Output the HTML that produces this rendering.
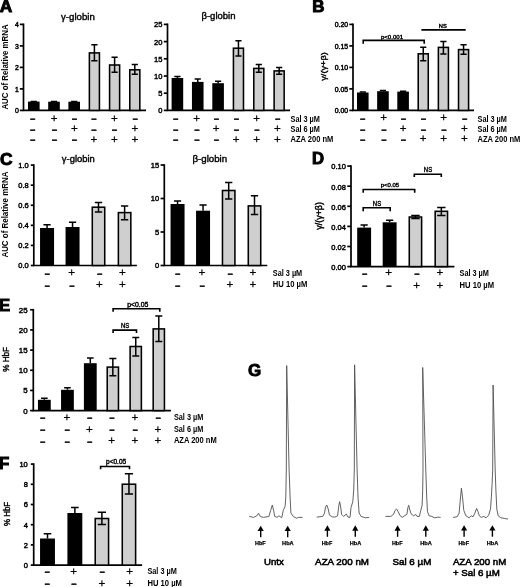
<!DOCTYPE html>
<html lang="en"><head><meta charset="utf-8"><title>Figure</title>
<style>html,body{margin:0;padding:0;background:#fff}svg{display:block}text{font-family:'Liberation Sans', Arial, Helvetica, sans-serif;fill:#000}</style>
</head><body>
<svg width="520" height="587" viewBox="0 0 520 587">
<rect width="520" height="587" fill="#fff"/>
<text x="-0.2" y="11.9" font-size="17.3" text-anchor="start" font-weight="bold" stroke="#000" stroke-width="1.0" stroke-linejoin="miter">A</text>
<text x="312.3" y="12.0" font-size="16.9" text-anchor="start" font-weight="bold" stroke="#000" stroke-width="1.0" stroke-linejoin="miter">B</text>
<text x="0.1" y="165.1" font-size="17.3" text-anchor="start" font-weight="bold" stroke="#000" stroke-width="1.0" stroke-linejoin="miter">C</text>
<text x="312.1" y="164.0" font-size="16.7" text-anchor="start" font-weight="bold" stroke="#000" stroke-width="1.0" stroke-linejoin="miter">D</text>
<text x="-1.1" y="311.1" font-size="16.7" text-anchor="start" font-weight="bold" stroke="#000" stroke-width="1.0" stroke-linejoin="miter">E</text>
<text x="-1.3" y="469.3" font-size="17.1" text-anchor="start" font-weight="bold" stroke="#000" stroke-width="1.2">F</text>
<text x="247.9" y="376.0" font-size="17.0" text-anchor="start" font-weight="bold" stroke="#000" stroke-width="0.9">G</text>
<path d="M23.5,23.45 V110.4 H146.0" fill="none" stroke="#000" stroke-width="1.7" stroke-linecap="butt" stroke-linejoin="miter"/>
<line x1="19.8" y1="110.4" x2="23.5" y2="110.4" stroke="#000" stroke-width="1.7"/>
<text x="18.9" y="113.08" font-size="6.9" text-anchor="end" font-weight="normal" stroke="#000" stroke-width="0.45">0</text>
<line x1="19.8" y1="88.9" x2="23.5" y2="88.9" stroke="#000" stroke-width="1.7"/>
<text x="18.9" y="91.58" font-size="6.9" text-anchor="end" font-weight="normal" stroke="#000" stroke-width="0.45">1</text>
<line x1="19.8" y1="67.4" x2="23.5" y2="67.4" stroke="#000" stroke-width="1.7"/>
<text x="18.9" y="70.08" font-size="6.9" text-anchor="end" font-weight="normal" stroke="#000" stroke-width="0.45">2</text>
<line x1="19.8" y1="45.900000000000006" x2="23.5" y2="45.900000000000006" stroke="#000" stroke-width="1.7"/>
<text x="18.9" y="48.58" font-size="6.9" text-anchor="end" font-weight="normal" stroke="#000" stroke-width="0.45">3</text>
<line x1="19.8" y1="24.400000000000006" x2="23.5" y2="24.400000000000006" stroke="#000" stroke-width="1.7"/>
<text x="18.9" y="27.08" font-size="6.9" text-anchor="end" font-weight="normal" stroke="#000" stroke-width="0.45">4</text>
<rect x="28.00" y="101.60" width="11.60" height="8.80" fill="#000"/>
<path d="M33.80,101.60 V101.40 M30.70,101.40 H36.90" stroke="#000" stroke-width="1.5" fill="none"/>
<rect x="48.20" y="101.70" width="11.60" height="8.70" fill="#000"/>
<path d="M54.00,101.70 V101.40 M50.90,101.40 H57.10" stroke="#000" stroke-width="1.5" fill="none"/>
<rect x="68.40" y="101.70" width="11.60" height="8.70" fill="#000"/>
<path d="M74.20,101.70 V101.50 M71.10,101.50 H77.30" stroke="#000" stroke-width="1.5" fill="none"/>
<rect x="89.38" y="52.90" width="10.05" height="57.50" fill="#cfcfcf" stroke="#000" stroke-width="1.55"/>
<path d="M94.40,44.80 V60.80 M91.30,44.80 H97.50 M91.30,60.80 H97.50" stroke="#000" stroke-width="1.5" fill="none"/>
<rect x="109.58" y="65.00" width="10.05" height="45.40" fill="#cfcfcf" stroke="#000" stroke-width="1.55"/>
<path d="M114.60,57.30 V72.30 M111.50,57.30 H117.70 M111.50,72.30 H117.70" stroke="#000" stroke-width="1.5" fill="none"/>
<rect x="129.78" y="69.80" width="10.05" height="40.60" fill="#cfcfcf" stroke="#000" stroke-width="1.55"/>
<path d="M134.80,64.50 V74.20 M131.70,64.50 H137.90 M131.70,74.20 H137.90" stroke="#000" stroke-width="1.5" fill="none"/>
<text x="32.60" y="122.35" font-size="8.8" font-weight="bold" text-anchor="middle" stroke="#000" stroke-width="0.5">−</text>
<text x="54.20" y="121.70" font-size="11.6" text-anchor="middle" stroke="#000" stroke-width="0.25">+</text>
<text x="74.30" y="122.35" font-size="8.8" font-weight="bold" text-anchor="middle" stroke="#000" stroke-width="0.5">−</text>
<text x="93.80" y="122.35" font-size="8.8" font-weight="bold" text-anchor="middle" stroke="#000" stroke-width="0.5">−</text>
<text x="114.30" y="121.70" font-size="11.6" text-anchor="middle" stroke="#000" stroke-width="0.25">+</text>
<text x="135.00" y="122.35" font-size="8.8" font-weight="bold" text-anchor="middle" stroke="#000" stroke-width="0.5">−</text>
<text x="32.60" y="133.05" font-size="8.8" font-weight="bold" text-anchor="middle" stroke="#000" stroke-width="0.5">−</text>
<text x="54.20" y="133.05" font-size="8.8" font-weight="bold" text-anchor="middle" stroke="#000" stroke-width="0.5">−</text>
<text x="74.30" y="132.40" font-size="11.6" text-anchor="middle" stroke="#000" stroke-width="0.25">+</text>
<text x="93.80" y="133.05" font-size="8.8" font-weight="bold" text-anchor="middle" stroke="#000" stroke-width="0.5">−</text>
<text x="114.30" y="133.05" font-size="8.8" font-weight="bold" text-anchor="middle" stroke="#000" stroke-width="0.5">−</text>
<text x="135.00" y="132.40" font-size="11.6" text-anchor="middle" stroke="#000" stroke-width="0.25">+</text>
<text x="32.60" y="143.15" font-size="8.8" font-weight="bold" text-anchor="middle" stroke="#000" stroke-width="0.5">−</text>
<text x="54.20" y="143.15" font-size="8.8" font-weight="bold" text-anchor="middle" stroke="#000" stroke-width="0.5">−</text>
<text x="74.30" y="143.15" font-size="8.8" font-weight="bold" text-anchor="middle" stroke="#000" stroke-width="0.5">−</text>
<text x="93.80" y="142.50" font-size="11.6" text-anchor="middle" stroke="#000" stroke-width="0.25">+</text>
<text x="114.30" y="142.50" font-size="11.6" text-anchor="middle" stroke="#000" stroke-width="0.25">+</text>
<text x="135.00" y="142.50" font-size="11.6" text-anchor="middle" stroke="#000" stroke-width="0.25">+</text>
<text x="77.9" y="19.6" font-size="9.6" text-anchor="middle" font-weight="normal" textLength="33.7" lengthAdjust="spacingAndGlyphs" stroke="#000" stroke-width="0.4">γ-globin</text>
<text transform="translate(8.4,67.0) rotate(-90)" font-size="8.4" text-anchor="middle" font-weight="bold" textLength="85.2" lengthAdjust="spacingAndGlyphs">AUC of Relative mRNA</text>
<path d="M167.5,23.45 V110.4 H290.0" fill="none" stroke="#000" stroke-width="1.7" stroke-linecap="butt" stroke-linejoin="miter"/>
<line x1="163.8" y1="110.4" x2="167.5" y2="110.4" stroke="#000" stroke-width="1.7"/>
<text x="162.4" y="113.3" font-size="7.5" text-anchor="end" font-weight="normal" stroke="#000" stroke-width="0.45">0</text>
<line x1="163.8" y1="93.2" x2="167.5" y2="93.2" stroke="#000" stroke-width="1.7"/>
<text x="162.4" y="96.1" font-size="7.5" text-anchor="end" font-weight="normal" stroke="#000" stroke-width="0.45">5</text>
<line x1="163.8" y1="76.0" x2="167.5" y2="76.0" stroke="#000" stroke-width="1.7"/>
<text x="162.4" y="78.9" font-size="7.5" text-anchor="end" font-weight="normal" stroke="#000" stroke-width="0.45">10</text>
<line x1="163.8" y1="58.80000000000001" x2="167.5" y2="58.80000000000001" stroke="#000" stroke-width="1.7"/>
<text x="162.4" y="61.7" font-size="7.5" text-anchor="end" font-weight="normal" stroke="#000" stroke-width="0.45">15</text>
<line x1="163.8" y1="41.60000000000001" x2="167.5" y2="41.60000000000001" stroke="#000" stroke-width="1.7"/>
<text x="162.4" y="44.5" font-size="7.5" text-anchor="end" font-weight="normal" stroke="#000" stroke-width="0.45">20</text>
<line x1="163.8" y1="24.400000000000006" x2="167.5" y2="24.400000000000006" stroke="#000" stroke-width="1.7"/>
<text x="162.4" y="27.3" font-size="7.5" text-anchor="end" font-weight="normal" stroke="#000" stroke-width="0.45">25</text>
<rect x="171.60" y="78.00" width="11.60" height="32.40" fill="#000"/>
<path d="M177.40,78.00 V76.50 M174.30,76.50 H180.50" stroke="#000" stroke-width="1.5" fill="none"/>
<rect x="191.95" y="81.90" width="11.60" height="28.50" fill="#000"/>
<path d="M197.75,81.90 V79.00 M194.65,79.00 H200.85" stroke="#000" stroke-width="1.5" fill="none"/>
<rect x="212.30" y="83.20" width="11.60" height="27.20" fill="#000"/>
<path d="M218.10,83.20 V81.30 M215.00,81.30 H221.20" stroke="#000" stroke-width="1.5" fill="none"/>
<rect x="233.43" y="48.20" width="10.05" height="62.20" fill="#cfcfcf" stroke="#000" stroke-width="1.55"/>
<path d="M238.45,40.80 V55.90 M235.35,40.80 H241.55 M235.35,55.90 H241.55" stroke="#000" stroke-width="1.5" fill="none"/>
<rect x="253.78" y="68.40" width="10.05" height="42.00" fill="#cfcfcf" stroke="#000" stroke-width="1.55"/>
<path d="M258.80,64.50 V72.30 M255.70,64.50 H261.90 M255.70,72.30 H261.90" stroke="#000" stroke-width="1.5" fill="none"/>
<rect x="274.12" y="70.90" width="10.05" height="39.50" fill="#cfcfcf" stroke="#000" stroke-width="1.55"/>
<path d="M279.15,67.40 V74.20 M276.05,67.40 H282.25 M276.05,74.20 H282.25" stroke="#000" stroke-width="1.5" fill="none"/>
<text x="175.50" y="122.35" font-size="8.8" font-weight="bold" text-anchor="middle" stroke="#000" stroke-width="0.5">−</text>
<text x="196.75" y="121.70" font-size="11.6" text-anchor="middle" stroke="#000" stroke-width="0.25">+</text>
<text x="216.25" y="122.35" font-size="8.8" font-weight="bold" text-anchor="middle" stroke="#000" stroke-width="0.5">−</text>
<text x="236.25" y="122.35" font-size="8.8" font-weight="bold" text-anchor="middle" stroke="#000" stroke-width="0.5">−</text>
<text x="256.75" y="121.70" font-size="11.6" text-anchor="middle" stroke="#000" stroke-width="0.25">+</text>
<text x="277.50" y="122.35" font-size="8.8" font-weight="bold" text-anchor="middle" stroke="#000" stroke-width="0.5">−</text>
<text x="175.50" y="133.05" font-size="8.8" font-weight="bold" text-anchor="middle" stroke="#000" stroke-width="0.5">−</text>
<text x="196.75" y="133.05" font-size="8.8" font-weight="bold" text-anchor="middle" stroke="#000" stroke-width="0.5">−</text>
<text x="216.25" y="132.40" font-size="11.6" text-anchor="middle" stroke="#000" stroke-width="0.25">+</text>
<text x="236.25" y="133.05" font-size="8.8" font-weight="bold" text-anchor="middle" stroke="#000" stroke-width="0.5">−</text>
<text x="256.75" y="133.05" font-size="8.8" font-weight="bold" text-anchor="middle" stroke="#000" stroke-width="0.5">−</text>
<text x="277.50" y="132.40" font-size="11.6" text-anchor="middle" stroke="#000" stroke-width="0.25">+</text>
<text x="175.50" y="143.15" font-size="8.8" font-weight="bold" text-anchor="middle" stroke="#000" stroke-width="0.5">−</text>
<text x="196.75" y="143.15" font-size="8.8" font-weight="bold" text-anchor="middle" stroke="#000" stroke-width="0.5">−</text>
<text x="216.25" y="143.15" font-size="8.8" font-weight="bold" text-anchor="middle" stroke="#000" stroke-width="0.5">−</text>
<text x="236.25" y="142.50" font-size="11.6" text-anchor="middle" stroke="#000" stroke-width="0.25">+</text>
<text x="256.75" y="142.50" font-size="11.6" text-anchor="middle" stroke="#000" stroke-width="0.25">+</text>
<text x="277.50" y="142.50" font-size="11.6" text-anchor="middle" stroke="#000" stroke-width="0.25">+</text>
<text x="290.5" y="121.8" font-size="8.5" text-anchor="start" font-weight="bold" textLength="29.4" lengthAdjust="spacingAndGlyphs">Sal 3 µM</text>
<text x="290.5" y="131.7" font-size="8.5" text-anchor="start" font-weight="bold" textLength="29.4" lengthAdjust="spacingAndGlyphs">Sal 6 µM</text>
<text x="290.5" y="141.6" font-size="8.5" text-anchor="start" font-weight="bold" textLength="42.8" lengthAdjust="spacingAndGlyphs">AZA 200 nM</text>
<text x="218.5" y="19.3" font-size="9.6" text-anchor="middle" font-weight="normal" textLength="34.1" lengthAdjust="spacingAndGlyphs" stroke="#000" stroke-width="0.4">β-globin</text>
<path d="M353,23.45 V110.4 H474.0" fill="none" stroke="#000" stroke-width="1.7" stroke-linecap="butt" stroke-linejoin="miter"/>
<line x1="349.3" y1="110.4" x2="353" y2="110.4" stroke="#000" stroke-width="1.7"/>
<text x="348.1" y="113.08" font-size="6.9" text-anchor="end" font-weight="normal" stroke="#000" stroke-width="0.45">0.00</text>
<line x1="349.3" y1="88.9" x2="353" y2="88.9" stroke="#000" stroke-width="1.7"/>
<text x="348.1" y="91.58" font-size="6.9" text-anchor="end" font-weight="normal" stroke="#000" stroke-width="0.45">0.05</text>
<line x1="349.3" y1="67.4" x2="353" y2="67.4" stroke="#000" stroke-width="1.7"/>
<text x="348.1" y="70.08" font-size="6.9" text-anchor="end" font-weight="normal" stroke="#000" stroke-width="0.45">0.10</text>
<line x1="349.3" y1="45.900000000000006" x2="353" y2="45.900000000000006" stroke="#000" stroke-width="1.7"/>
<text x="348.1" y="48.58" font-size="6.9" text-anchor="end" font-weight="normal" stroke="#000" stroke-width="0.45">0.15</text>
<line x1="349.3" y1="24.400000000000006" x2="353" y2="24.400000000000006" stroke="#000" stroke-width="1.7"/>
<text x="348.1" y="27.08" font-size="6.9" text-anchor="end" font-weight="normal" stroke="#000" stroke-width="0.45">0.20</text>
<rect x="357.00" y="92.50" width="11.60" height="17.90" fill="#000"/>
<path d="M362.80,92.50 V92.00 M359.70,92.00 H365.90" stroke="#000" stroke-width="1.5" fill="none"/>
<rect x="377.15" y="91.20" width="11.60" height="19.20" fill="#000"/>
<path d="M382.95,91.20 V90.60 M379.85,90.60 H386.05" stroke="#000" stroke-width="1.5" fill="none"/>
<rect x="397.30" y="91.60" width="11.60" height="18.80" fill="#000"/>
<path d="M403.10,91.60 V91.20 M400.00,91.20 H406.20" stroke="#000" stroke-width="1.5" fill="none"/>
<rect x="418.22" y="53.80" width="10.05" height="56.60" fill="#cfcfcf" stroke="#000" stroke-width="1.55"/>
<path d="M423.25,47.20 V60.70 M420.15,47.20 H426.35 M420.15,60.70 H426.35" stroke="#000" stroke-width="1.5" fill="none"/>
<rect x="438.37" y="47.40" width="10.05" height="63.00" fill="#cfcfcf" stroke="#000" stroke-width="1.55"/>
<path d="M443.40,41.40 V54.00 M440.30,41.40 H446.50 M440.30,54.00 H446.50" stroke="#000" stroke-width="1.5" fill="none"/>
<rect x="458.52" y="49.60" width="10.05" height="60.80" fill="#cfcfcf" stroke="#000" stroke-width="1.55"/>
<path d="M463.55,44.70 V54.30 M460.45,44.70 H466.65 M460.45,54.30 H466.65" stroke="#000" stroke-width="1.5" fill="none"/>
<text x="362.50" y="122.05" font-size="8.8" font-weight="bold" text-anchor="middle" stroke="#000" stroke-width="0.5">−</text>
<text x="383.75" y="121.40" font-size="11.6" text-anchor="middle" stroke="#000" stroke-width="0.25">+</text>
<text x="403.25" y="122.05" font-size="8.8" font-weight="bold" text-anchor="middle" stroke="#000" stroke-width="0.5">−</text>
<text x="423.25" y="122.05" font-size="8.8" font-weight="bold" text-anchor="middle" stroke="#000" stroke-width="0.5">−</text>
<text x="443.75" y="121.40" font-size="11.6" text-anchor="middle" stroke="#000" stroke-width="0.25">+</text>
<text x="464.50" y="122.05" font-size="8.8" font-weight="bold" text-anchor="middle" stroke="#000" stroke-width="0.5">−</text>
<text x="362.50" y="132.55" font-size="8.8" font-weight="bold" text-anchor="middle" stroke="#000" stroke-width="0.5">−</text>
<text x="383.75" y="132.55" font-size="8.8" font-weight="bold" text-anchor="middle" stroke="#000" stroke-width="0.5">−</text>
<text x="403.25" y="131.90" font-size="11.6" text-anchor="middle" stroke="#000" stroke-width="0.25">+</text>
<text x="423.25" y="132.55" font-size="8.8" font-weight="bold" text-anchor="middle" stroke="#000" stroke-width="0.5">−</text>
<text x="443.75" y="132.55" font-size="8.8" font-weight="bold" text-anchor="middle" stroke="#000" stroke-width="0.5">−</text>
<text x="464.50" y="131.90" font-size="11.6" text-anchor="middle" stroke="#000" stroke-width="0.25">+</text>
<text x="362.50" y="142.65" font-size="8.8" font-weight="bold" text-anchor="middle" stroke="#000" stroke-width="0.5">−</text>
<text x="383.75" y="142.65" font-size="8.8" font-weight="bold" text-anchor="middle" stroke="#000" stroke-width="0.5">−</text>
<text x="403.25" y="142.65" font-size="8.8" font-weight="bold" text-anchor="middle" stroke="#000" stroke-width="0.5">−</text>
<text x="423.25" y="142.00" font-size="11.6" text-anchor="middle" stroke="#000" stroke-width="0.25">+</text>
<text x="443.75" y="142.00" font-size="11.6" text-anchor="middle" stroke="#000" stroke-width="0.25">+</text>
<text x="464.50" y="142.00" font-size="11.6" text-anchor="middle" stroke="#000" stroke-width="0.25">+</text>
<path d="M363.2,43.8 V40.4 H424.2 V43.8" fill="none" stroke="#000" stroke-width="1.6"/>
<text x="392" y="38.6" font-size="6.2" text-anchor="middle" font-weight="normal" textLength="22.2" lengthAdjust="spacingAndGlyphs" stroke="#000" stroke-width="0.4">p&lt;0.001</text>
<path d="M421.4,29.9 H465.7" fill="none" stroke="#000" stroke-width="1.6"/>
<text x="442.8" y="28.3" font-size="6.0" text-anchor="middle" font-weight="normal" textLength="7.9" lengthAdjust="spacingAndGlyphs" stroke="#000" stroke-width="0.4">NS</text>
<text x="477.5" y="121.6" font-size="8.5" text-anchor="start" font-weight="bold" textLength="29.4" lengthAdjust="spacingAndGlyphs">Sal 3 µM</text>
<text x="477.5" y="131.6" font-size="8.5" text-anchor="start" font-weight="bold" textLength="29.4" lengthAdjust="spacingAndGlyphs">Sal 6 µM</text>
<text x="477.5" y="141.5" font-size="8.5" text-anchor="start" font-weight="bold" textLength="42.8" lengthAdjust="spacingAndGlyphs">AZA 200 nM</text>
<text transform="translate(326.3,66.5) rotate(-90)" font-size="8.0" text-anchor="middle" font-weight="normal" textLength="28.5" lengthAdjust="spacingAndGlyphs" stroke="#000" stroke-width="0.4">γ/(γ+β)</text>
<path d="M33.8,164.15 V265.5 H136.9" fill="none" stroke="#000" stroke-width="1.7" stroke-linecap="butt" stroke-linejoin="miter"/>
<line x1="30.799999999999997" y1="265.5" x2="33.8" y2="265.5" stroke="#000" stroke-width="1.7"/>
<text x="28.7" y="268.4" font-size="7.5" text-anchor="end" font-weight="normal" stroke="#000" stroke-width="0.45">0.0</text>
<line x1="30.799999999999997" y1="245.42000000000002" x2="33.8" y2="245.42000000000002" stroke="#000" stroke-width="1.7"/>
<text x="28.7" y="248.32" font-size="7.5" text-anchor="end" font-weight="normal" stroke="#000" stroke-width="0.45">0.2</text>
<line x1="30.799999999999997" y1="225.34" x2="33.8" y2="225.34" stroke="#000" stroke-width="1.7"/>
<text x="28.7" y="228.24" font-size="7.5" text-anchor="end" font-weight="normal" stroke="#000" stroke-width="0.45">0.4</text>
<line x1="30.799999999999997" y1="205.26" x2="33.8" y2="205.26" stroke="#000" stroke-width="1.7"/>
<text x="28.7" y="208.16" font-size="7.5" text-anchor="end" font-weight="normal" stroke="#000" stroke-width="0.45">0.6</text>
<line x1="30.799999999999997" y1="185.18" x2="33.8" y2="185.18" stroke="#000" stroke-width="1.7"/>
<text x="28.7" y="188.08" font-size="7.5" text-anchor="end" font-weight="normal" stroke="#000" stroke-width="0.45">0.8</text>
<line x1="30.799999999999997" y1="165.10000000000002" x2="33.8" y2="165.10000000000002" stroke="#000" stroke-width="1.7"/>
<text x="28.7" y="168.0" font-size="7.5" text-anchor="end" font-weight="normal" stroke="#000" stroke-width="0.45">1.0</text>
<rect x="40.05" y="228.00" width="14.00" height="37.50" fill="#000"/>
<path d="M47.05,228.00 V224.80 M43.45,224.80 H50.65" stroke="#000" stroke-width="1.5" fill="none"/>
<rect x="65.55" y="227.00" width="14.00" height="38.50" fill="#000"/>
<path d="M72.55,227.00 V222.30 M68.95,222.30 H76.15" stroke="#000" stroke-width="1.5" fill="none"/>
<rect x="92.28" y="207.20" width="12.45" height="58.30" fill="#cfcfcf" stroke="#000" stroke-width="1.55"/>
<path d="M98.50,202.40 V212.00 M94.85,202.40 H102.15 M94.85,212.00 H102.15" stroke="#000" stroke-width="1.5" fill="none"/>
<rect x="118.38" y="212.60" width="12.45" height="52.90" fill="#cfcfcf" stroke="#000" stroke-width="1.55"/>
<path d="M124.60,205.90 V219.70 M120.95,205.90 H128.25 M120.95,219.70 H128.25" stroke="#000" stroke-width="1.5" fill="none"/>
<text x="47.00" y="276.85" font-size="8.8" font-weight="bold" text-anchor="middle" stroke="#000" stroke-width="0.5">−</text>
<text x="71.75" y="276.20" font-size="11.6" text-anchor="middle" stroke="#000" stroke-width="0.25">+</text>
<text x="99.50" y="276.85" font-size="8.8" font-weight="bold" text-anchor="middle" stroke="#000" stroke-width="0.5">−</text>
<text x="122.50" y="276.20" font-size="11.6" text-anchor="middle" stroke="#000" stroke-width="0.25">+</text>
<text x="47.00" y="288.55" font-size="8.8" font-weight="bold" text-anchor="middle" stroke="#000" stroke-width="0.5">−</text>
<text x="71.75" y="288.55" font-size="8.8" font-weight="bold" text-anchor="middle" stroke="#000" stroke-width="0.5">−</text>
<text x="99.50" y="287.90" font-size="11.6" text-anchor="middle" stroke="#000" stroke-width="0.25">+</text>
<text x="122.50" y="287.90" font-size="11.6" text-anchor="middle" stroke="#000" stroke-width="0.25">+</text>
<text x="78.3" y="161.6" font-size="9.6" text-anchor="middle" font-weight="normal" textLength="33.0" lengthAdjust="spacingAndGlyphs" stroke="#000" stroke-width="0.4">γ-globin</text>
<text transform="translate(8.0,214.6) rotate(-90)" font-size="8.6" text-anchor="middle" font-weight="bold" textLength="86" lengthAdjust="spacingAndGlyphs">AUC of Relative mRNA</text>
<path d="M164.3,164.15 V265.5 H267.3" fill="none" stroke="#000" stroke-width="1.7" stroke-linecap="butt" stroke-linejoin="miter"/>
<line x1="160.60000000000002" y1="265.5" x2="164.3" y2="265.5" stroke="#000" stroke-width="1.7"/>
<text x="159.2" y="268.4" font-size="7.5" text-anchor="end" font-weight="normal" stroke="#000" stroke-width="0.45">0</text>
<line x1="160.60000000000002" y1="232.0" x2="164.3" y2="232.0" stroke="#000" stroke-width="1.7"/>
<text x="159.2" y="234.9" font-size="7.5" text-anchor="end" font-weight="normal" stroke="#000" stroke-width="0.45">5</text>
<line x1="160.60000000000002" y1="198.5" x2="164.3" y2="198.5" stroke="#000" stroke-width="1.7"/>
<text x="159.2" y="201.4" font-size="7.5" text-anchor="end" font-weight="normal" stroke="#000" stroke-width="0.45">10</text>
<line x1="160.60000000000002" y1="165.0" x2="164.3" y2="165.0" stroke="#000" stroke-width="1.7"/>
<text x="159.2" y="167.9" font-size="7.5" text-anchor="end" font-weight="normal" stroke="#000" stroke-width="0.45">15</text>
<rect x="170.55" y="204.00" width="14.00" height="61.50" fill="#000"/>
<path d="M177.55,204.00 V201.10 M173.95,201.10 H181.15" stroke="#000" stroke-width="1.5" fill="none"/>
<rect x="196.05" y="210.70" width="14.00" height="54.80" fill="#000"/>
<path d="M203.05,210.70 V204.90 M199.45,204.90 H206.65" stroke="#000" stroke-width="1.5" fill="none"/>
<rect x="222.47" y="190.50" width="12.45" height="75.00" fill="#cfcfcf" stroke="#000" stroke-width="1.55"/>
<path d="M228.70,182.40 V199.10 M225.05,182.40 H232.35 M225.05,199.10 H232.35" stroke="#000" stroke-width="1.5" fill="none"/>
<rect x="248.28" y="205.90" width="12.45" height="59.60" fill="#cfcfcf" stroke="#000" stroke-width="1.55"/>
<path d="M254.50,195.70 V214.50 M250.85,195.70 H258.15 M250.85,214.50 H258.15" stroke="#000" stroke-width="1.5" fill="none"/>
<text x="177.50" y="276.75" font-size="8.8" font-weight="bold" text-anchor="middle" stroke="#000" stroke-width="0.5">−</text>
<text x="202.00" y="276.10" font-size="11.6" text-anchor="middle" stroke="#000" stroke-width="0.25">+</text>
<text x="230.00" y="276.75" font-size="8.8" font-weight="bold" text-anchor="middle" stroke="#000" stroke-width="0.5">−</text>
<text x="253.00" y="276.10" font-size="11.6" text-anchor="middle" stroke="#000" stroke-width="0.25">+</text>
<text x="177.50" y="288.75" font-size="8.8" font-weight="bold" text-anchor="middle" stroke="#000" stroke-width="0.5">−</text>
<text x="202.00" y="288.75" font-size="8.8" font-weight="bold" text-anchor="middle" stroke="#000" stroke-width="0.5">−</text>
<text x="230.00" y="288.10" font-size="11.6" text-anchor="middle" stroke="#000" stroke-width="0.25">+</text>
<text x="253.00" y="288.10" font-size="11.6" text-anchor="middle" stroke="#000" stroke-width="0.25">+</text>
<text x="209.8" y="161.8" font-size="9.6" text-anchor="middle" font-weight="normal" textLength="34.8" lengthAdjust="spacingAndGlyphs" stroke="#000" stroke-width="0.4">β-globin</text>
<text x="272.8" y="276" font-size="8.5" text-anchor="start" font-weight="bold" textLength="29.4" lengthAdjust="spacingAndGlyphs">Sal 3 µM</text>
<text x="272.8" y="287.3" font-size="8.5" text-anchor="start" font-weight="bold" textLength="34.5" lengthAdjust="spacingAndGlyphs">HU 10 µM</text>
<path d="M351,165.25 V266.6 H454.4" fill="none" stroke="#000" stroke-width="1.7" stroke-linecap="butt" stroke-linejoin="miter"/>
<line x1="347.3" y1="266.6" x2="351" y2="266.6" stroke="#000" stroke-width="1.7"/>
<text x="345.9" y="269.9" font-size="7.5" text-anchor="end" font-weight="normal" stroke="#000" stroke-width="0.45">0.00</text>
<line x1="347.3" y1="246.50000000000003" x2="351" y2="246.50000000000003" stroke="#000" stroke-width="1.7"/>
<text x="345.9" y="249.8" font-size="7.5" text-anchor="end" font-weight="normal" stroke="#000" stroke-width="0.45">0.02</text>
<line x1="347.3" y1="226.40000000000003" x2="351" y2="226.40000000000003" stroke="#000" stroke-width="1.7"/>
<text x="345.9" y="229.7" font-size="7.5" text-anchor="end" font-weight="normal" stroke="#000" stroke-width="0.45">0.04</text>
<line x1="347.3" y1="206.3" x2="351" y2="206.3" stroke="#000" stroke-width="1.7"/>
<text x="345.9" y="209.6" font-size="7.5" text-anchor="end" font-weight="normal" stroke="#000" stroke-width="0.45">0.06</text>
<line x1="347.3" y1="186.20000000000002" x2="351" y2="186.20000000000002" stroke="#000" stroke-width="1.7"/>
<text x="345.9" y="189.5" font-size="7.5" text-anchor="end" font-weight="normal" stroke="#000" stroke-width="0.45">0.08</text>
<line x1="347.3" y1="166.10000000000002" x2="351" y2="166.10000000000002" stroke="#000" stroke-width="1.7"/>
<text x="345.9" y="169.4" font-size="7.5" text-anchor="end" font-weight="normal" stroke="#000" stroke-width="0.45">0.10</text>
<rect x="357.20" y="227.60" width="13.90" height="39.00" fill="#000"/>
<path d="M364.15,227.60 V225.10 M360.55,225.10 H367.75" stroke="#000" stroke-width="1.5" fill="none"/>
<rect x="382.70" y="222.30" width="13.90" height="44.30" fill="#000"/>
<path d="M389.65,222.30 V220.30 M386.05,220.30 H393.25" stroke="#000" stroke-width="1.5" fill="none"/>
<rect x="409.27" y="217.00" width="12.35" height="49.60" fill="#cfcfcf" stroke="#000" stroke-width="1.55"/>
<path d="M415.45,215.50 V218.40 M411.25,215.50 H419.65 M411.25,218.40 H419.65" stroke="#000" stroke-width="1.5" fill="none"/>
<rect x="435.18" y="211.30" width="12.35" height="55.30" fill="#cfcfcf" stroke="#000" stroke-width="1.55"/>
<path d="M441.35,207.40 V215.50 M437.15,207.40 H445.55 M437.15,215.50 H445.55" stroke="#000" stroke-width="1.5" fill="none"/>
<text x="364.50" y="276.75" font-size="8.8" font-weight="bold" text-anchor="middle" stroke="#000" stroke-width="0.5">−</text>
<text x="388.75" y="276.10" font-size="11.6" text-anchor="middle" stroke="#000" stroke-width="0.25">+</text>
<text x="416.75" y="276.75" font-size="8.8" font-weight="bold" text-anchor="middle" stroke="#000" stroke-width="0.5">−</text>
<text x="440.00" y="276.10" font-size="11.6" text-anchor="middle" stroke="#000" stroke-width="0.25">+</text>
<text x="364.50" y="289.15" font-size="8.8" font-weight="bold" text-anchor="middle" stroke="#000" stroke-width="0.5">−</text>
<text x="388.75" y="289.15" font-size="8.8" font-weight="bold" text-anchor="middle" stroke="#000" stroke-width="0.5">−</text>
<text x="416.75" y="288.50" font-size="11.6" text-anchor="middle" stroke="#000" stroke-width="0.25">+</text>
<text x="440.00" y="288.50" font-size="11.6" text-anchor="middle" stroke="#000" stroke-width="0.25">+</text>
<path d="M363.2,192.7 V189.5 H414.7 V192.7" fill="none" stroke="#000" stroke-width="1.6"/>
<text x="390" y="186.7" font-size="6.2" text-anchor="middle" font-weight="normal" textLength="18.4" lengthAdjust="spacingAndGlyphs" stroke="#000" stroke-width="0.4">p&lt;0.05</text>
<path d="M363.2,211.3 V207.8 H390.2 V211.3" fill="none" stroke="#000" stroke-width="1.6"/>
<text x="377" y="205.8" font-size="7.0" text-anchor="middle" font-weight="normal" textLength="8.3" lengthAdjust="spacingAndGlyphs" stroke="#000" stroke-width="0.4">NS</text>
<path d="M414.3,177.1 V174.2 H441.3 V177.1" fill="none" stroke="#000" stroke-width="1.6"/>
<text x="428" y="171.6" font-size="7.0" text-anchor="middle" font-weight="normal" textLength="8.3" lengthAdjust="spacingAndGlyphs" stroke="#000" stroke-width="0.4">NS</text>
<text x="459.5" y="276" font-size="8.5" text-anchor="start" font-weight="bold" textLength="29.4" lengthAdjust="spacingAndGlyphs">Sal 3 µM</text>
<text x="459.5" y="287.8" font-size="8.5" text-anchor="start" font-weight="bold" textLength="34.5" lengthAdjust="spacingAndGlyphs">HU 10 µM</text>
<text transform="translate(322.2,215.9) rotate(-90)" font-size="9.6" text-anchor="middle" font-weight="normal" textLength="27.6" lengthAdjust="spacingAndGlyphs" stroke="#000" stroke-width="0.45">γ/(γ+β)</text>
<path d="M33.3,308.95 V410.6 H170.9" fill="none" stroke="#000" stroke-width="1.7" stroke-linecap="butt" stroke-linejoin="miter"/>
<line x1="30.099999999999998" y1="410.6" x2="33.3" y2="410.6" stroke="#000" stroke-width="1.7"/>
<text x="27.6" y="413.64" font-size="7.9" text-anchor="end" font-weight="normal" stroke="#000" stroke-width="0.45">0</text>
<line x1="30.099999999999998" y1="390.43" x2="33.3" y2="390.43" stroke="#000" stroke-width="1.7"/>
<text x="27.6" y="393.47" font-size="7.9" text-anchor="end" font-weight="normal" stroke="#000" stroke-width="0.45">5</text>
<line x1="30.099999999999998" y1="370.26" x2="33.3" y2="370.26" stroke="#000" stroke-width="1.7"/>
<text x="27.6" y="373.3" font-size="7.9" text-anchor="end" font-weight="normal" stroke="#000" stroke-width="0.45">10</text>
<line x1="30.099999999999998" y1="350.09000000000003" x2="33.3" y2="350.09000000000003" stroke="#000" stroke-width="1.7"/>
<text x="27.6" y="353.13" font-size="7.9" text-anchor="end" font-weight="normal" stroke="#000" stroke-width="0.45">15</text>
<line x1="30.099999999999998" y1="329.92" x2="33.3" y2="329.92" stroke="#000" stroke-width="1.7"/>
<text x="27.6" y="332.96" font-size="7.9" text-anchor="end" font-weight="normal" stroke="#000" stroke-width="0.45">20</text>
<line x1="30.099999999999998" y1="309.75" x2="33.3" y2="309.75" stroke="#000" stroke-width="1.7"/>
<text x="27.6" y="312.79" font-size="7.9" text-anchor="end" font-weight="normal" stroke="#000" stroke-width="0.45">25</text>
<rect x="37.95" y="399.80" width="12.80" height="10.80" fill="#000"/>
<path d="M44.35,399.80 V398.30 M41.05,398.30 H47.65" stroke="#000" stroke-width="1.5" fill="none"/>
<rect x="61.05" y="389.80" width="12.80" height="20.80" fill="#000"/>
<path d="M67.45,389.80 V387.70 M64.15,387.70 H70.75" stroke="#000" stroke-width="1.5" fill="none"/>
<rect x="83.90" y="363.20" width="12.80" height="47.40" fill="#000"/>
<path d="M90.30,363.20 V358.00 M87.00,358.00 H93.60" stroke="#000" stroke-width="1.5" fill="none"/>
<rect x="107.22" y="367.10" width="11.25" height="43.50" fill="#cfcfcf" stroke="#000" stroke-width="1.55"/>
<path d="M112.85,358.40 V375.70 M109.35,358.40 H116.35 M109.35,375.70 H116.35" stroke="#000" stroke-width="1.5" fill="none"/>
<rect x="130.12" y="346.50" width="11.25" height="64.10" fill="#cfcfcf" stroke="#000" stroke-width="1.55"/>
<path d="M135.75,337.60 V356.10 M132.25,337.60 H139.25 M132.25,356.10 H139.25" stroke="#000" stroke-width="1.5" fill="none"/>
<rect x="153.18" y="328.90" width="11.25" height="81.70" fill="#cfcfcf" stroke="#000" stroke-width="1.55"/>
<path d="M158.80,316.00 V341.60 M155.30,316.00 H162.30 M155.30,341.60 H162.30" stroke="#000" stroke-width="1.5" fill="none"/>
<text x="42.50" y="421.45" font-size="8.8" font-weight="bold" text-anchor="middle" stroke="#000" stroke-width="0.5">−</text>
<text x="67.00" y="420.80" font-size="11.6" text-anchor="middle" stroke="#000" stroke-width="0.25">+</text>
<text x="89.50" y="421.45" font-size="8.8" font-weight="bold" text-anchor="middle" stroke="#000" stroke-width="0.5">−</text>
<text x="111.75" y="421.45" font-size="8.8" font-weight="bold" text-anchor="middle" stroke="#000" stroke-width="0.5">−</text>
<text x="135.00" y="420.80" font-size="11.6" text-anchor="middle" stroke="#000" stroke-width="0.25">+</text>
<text x="158.00" y="421.45" font-size="8.8" font-weight="bold" text-anchor="middle" stroke="#000" stroke-width="0.5">−</text>
<text x="42.50" y="433.45" font-size="8.8" font-weight="bold" text-anchor="middle" stroke="#000" stroke-width="0.5">−</text>
<text x="67.00" y="433.45" font-size="8.8" font-weight="bold" text-anchor="middle" stroke="#000" stroke-width="0.5">−</text>
<text x="89.50" y="432.80" font-size="11.6" text-anchor="middle" stroke="#000" stroke-width="0.25">+</text>
<text x="111.75" y="433.45" font-size="8.8" font-weight="bold" text-anchor="middle" stroke="#000" stroke-width="0.5">−</text>
<text x="135.00" y="433.45" font-size="8.8" font-weight="bold" text-anchor="middle" stroke="#000" stroke-width="0.5">−</text>
<text x="158.00" y="432.80" font-size="11.6" text-anchor="middle" stroke="#000" stroke-width="0.25">+</text>
<text x="42.50" y="445.05" font-size="8.8" font-weight="bold" text-anchor="middle" stroke="#000" stroke-width="0.5">−</text>
<text x="67.00" y="445.05" font-size="8.8" font-weight="bold" text-anchor="middle" stroke="#000" stroke-width="0.5">−</text>
<text x="89.50" y="445.05" font-size="8.8" font-weight="bold" text-anchor="middle" stroke="#000" stroke-width="0.5">−</text>
<text x="111.75" y="444.40" font-size="11.6" text-anchor="middle" stroke="#000" stroke-width="0.25">+</text>
<text x="135.00" y="444.40" font-size="11.6" text-anchor="middle" stroke="#000" stroke-width="0.25">+</text>
<text x="158.00" y="444.40" font-size="11.6" text-anchor="middle" stroke="#000" stroke-width="0.25">+</text>
<path d="M113.1,311.7 V308.8 H159.8 V311.7" fill="none" stroke="#000" stroke-width="1.6"/>
<text x="137.8" y="306.5" font-size="6.6" text-anchor="middle" font-weight="normal" textLength="21.2" lengthAdjust="spacingAndGlyphs" stroke="#000" stroke-width="0.4">p&lt;0.05</text>
<path d="M113.1,332.9 V330.1 H136.5 V332.9" fill="none" stroke="#000" stroke-width="1.6"/>
<text x="125.05" y="327.6" font-size="7.0" text-anchor="middle" font-weight="normal" textLength="8.3" lengthAdjust="spacingAndGlyphs" stroke="#000" stroke-width="0.4">NS</text>
<text x="173.9" y="420" font-size="8.5" text-anchor="start" font-weight="bold" textLength="29.4" lengthAdjust="spacingAndGlyphs">Sal 3 µM</text>
<text x="173.9" y="431.5" font-size="8.5" text-anchor="start" font-weight="bold" textLength="29.4" lengthAdjust="spacingAndGlyphs">Sal 6 µM</text>
<text x="173.9" y="443" font-size="8.5" text-anchor="start" font-weight="bold" textLength="42.8" lengthAdjust="spacingAndGlyphs">AZA 200 nM</text>
<text transform="translate(9.3,359.3) rotate(-90)" font-size="8.6" text-anchor="middle" font-weight="normal" textLength="24.7" lengthAdjust="spacingAndGlyphs" stroke="#000" stroke-width="0.4">% HbF</text>
<path d="M33.7,463.25 V565.1 H142.1" fill="none" stroke="#000" stroke-width="1.7" stroke-linecap="butt" stroke-linejoin="miter"/>
<line x1="30.800000000000004" y1="565.1" x2="33.7" y2="565.1" stroke="#000" stroke-width="1.7"/>
<text x="27.8" y="568.0" font-size="7.5" text-anchor="end" font-weight="normal" stroke="#000" stroke-width="0.45">0</text>
<line x1="30.800000000000004" y1="544.9" x2="33.7" y2="544.9" stroke="#000" stroke-width="1.7"/>
<text x="27.8" y="547.8" font-size="7.5" text-anchor="end" font-weight="normal" stroke="#000" stroke-width="0.45">2</text>
<line x1="30.800000000000004" y1="524.7" x2="33.7" y2="524.7" stroke="#000" stroke-width="1.7"/>
<text x="27.8" y="527.6" font-size="7.5" text-anchor="end" font-weight="normal" stroke="#000" stroke-width="0.45">4</text>
<line x1="30.800000000000004" y1="504.5" x2="33.7" y2="504.5" stroke="#000" stroke-width="1.7"/>
<text x="27.8" y="507.4" font-size="7.5" text-anchor="end" font-weight="normal" stroke="#000" stroke-width="0.45">6</text>
<line x1="30.800000000000004" y1="484.3" x2="33.7" y2="484.3" stroke="#000" stroke-width="1.7"/>
<text x="27.8" y="487.2" font-size="7.5" text-anchor="end" font-weight="normal" stroke="#000" stroke-width="0.45">8</text>
<line x1="30.800000000000004" y1="464.1" x2="33.7" y2="464.1" stroke="#000" stroke-width="1.7"/>
<text x="27.8" y="467.0" font-size="7.5" text-anchor="end" font-weight="normal" stroke="#000" stroke-width="0.45">10</text>
<rect x="40.05" y="538.50" width="14.90" height="26.60" fill="#000"/>
<path d="M47.50,538.50 V533.80 M43.70,533.80 H51.30" stroke="#000" stroke-width="1.5" fill="none"/>
<rect x="67.40" y="513.00" width="14.90" height="52.10" fill="#000"/>
<path d="M74.85,513.00 V507.40 M71.05,507.40 H78.65" stroke="#000" stroke-width="1.5" fill="none"/>
<rect x="95.23" y="518.50" width="13.35" height="46.60" fill="#cfcfcf" stroke="#000" stroke-width="1.55"/>
<path d="M101.90,512.30 V524.40 M97.80,512.30 H106.00 M97.80,524.40 H106.00" stroke="#000" stroke-width="1.5" fill="none"/>
<rect x="122.27" y="484.20" width="13.35" height="80.90" fill="#cfcfcf" stroke="#000" stroke-width="1.55"/>
<path d="M128.95,473.70 V494.00 M124.85,473.70 H133.05 M124.85,494.00 H133.05" stroke="#000" stroke-width="1.5" fill="none"/>
<text x="47.00" y="574.55" font-size="8.8" font-weight="bold" text-anchor="middle" stroke="#000" stroke-width="0.5">−</text>
<text x="73.75" y="574.80" font-size="11.6" text-anchor="middle" stroke="#000" stroke-width="0.25">+</text>
<text x="102.00" y="574.55" font-size="8.8" font-weight="bold" text-anchor="middle" stroke="#000" stroke-width="0.5">−</text>
<text x="129.70" y="574.80" font-size="11.6" text-anchor="middle" stroke="#000" stroke-width="0.25">+</text>
<text x="47.00" y="586.85" font-size="8.8" font-weight="bold" text-anchor="middle" stroke="#000" stroke-width="0.5">−</text>
<text x="73.75" y="586.85" font-size="8.8" font-weight="bold" text-anchor="middle" stroke="#000" stroke-width="0.5">−</text>
<text x="102.00" y="587.10" font-size="11.6" text-anchor="middle" stroke="#000" stroke-width="0.25">+</text>
<text x="129.70" y="587.10" font-size="11.6" text-anchor="middle" stroke="#000" stroke-width="0.25">+</text>
<path d="M100.6,469.3 V466.5 H129.5 V469.3" fill="none" stroke="#000" stroke-width="1.6"/>
<text x="116.1" y="463.6" font-size="6.4" text-anchor="middle" font-weight="normal" textLength="20.2" lengthAdjust="spacingAndGlyphs" stroke="#000" stroke-width="0.4">p&lt;0.05</text>
<text x="147.4" y="573.9" font-size="8.5" text-anchor="start" font-weight="bold" textLength="29.4" lengthAdjust="spacingAndGlyphs">Sal 3 µM</text>
<text x="147.4" y="585.9" font-size="8.5" text-anchor="start" font-weight="bold" textLength="34.5" lengthAdjust="spacingAndGlyphs">HU 10 µM</text>
<text transform="translate(10.0,513.9) rotate(-90)" font-size="8.6" text-anchor="middle" font-weight="normal" textLength="24.1" lengthAdjust="spacingAndGlyphs" stroke="#000" stroke-width="0.4">% HbF</text>
<path d="M249.2,516.4 L253.5,517.4 256.8,515.8 258.6,513.3 260.2,516.4 263.6,517.4 268.9,516.4 270.7,510.4 272.3,505 273.6,510.4 274.7,516.4 277,517.4 279,515.8 281.7,517.8 283.3,510.4 285.1,506.3 285.8,497 286.3,470 286.7,365.6 289.1,470 290.1,497 290.9,513 293.2,516.4 296.5,518.2 298.5,517.4 302.6,517.4" fill="none" stroke="#505050" stroke-width="0.9" stroke-linejoin="round"/>
<path d="M316.7,517.1 L322.8,516.4 324.5,513.1 325.5,507 326.8,505 328.2,509 329.5,515.1 332.2,516.8 334.9,517.1 337.6,515.8 338.7,506.3 339.6,501.6 340.7,507 341.6,514.4 343.6,516.4 346.3,514.1 348,517.1 350,517.4 351,507.7 352.8,501.6 353.7,490.2 354.3,470 354.6,364.8 357.1,470 358,497 359.1,513 361.1,516.4 365.2,517.8 369.2,517.4" fill="none" stroke="#505050" stroke-width="0.9" stroke-linejoin="round"/>
<path d="M385.4,516.4 L390.8,516.4 393.5,514.4 395.1,510.4 396.6,509 398.2,511.7 400.2,515.8 402.2,517.4 404.9,515.5 406.9,514.4 407.9,507.7 408.7,505.3 409.6,509 411,513.7 413.6,515.8 415.7,514.4 417,516.4 419.3,516.4 420.8,510.4 422.1,505.3 422.7,490.2 423.0,470 422.7,367.5 425.8,470 426.7,497 427.5,511.7 429.1,515.8 431.8,516.4 434.5,517.8 437.9,517.1 440.6,517.4" fill="none" stroke="#505050" stroke-width="0.9" stroke-linejoin="round"/>
<path d="M453.1,517.4 L457.1,516.8 459.1,513.1 460.2,501 461.4,488.2 462.5,496.9 463.8,510.4 465.9,515.8 469.2,517.8 471.2,515.8 473,516.8 474.9,513.1 476.6,508.4 478,511.7 479.3,515.8 481.3,517.4 483.8,516.4 486,517.8 488.7,515.1 490.5,509 491.4,496.9 492.1,483.5 492.7,470 493.1,385 495.2,470 495.9,490.2 496.8,509 498.2,515.8 500.9,517.8 504.9,518.5 508,519.1" fill="none" stroke="#505050" stroke-width="0.9" stroke-linejoin="round"/>
<path d="M260.7,537.2 V528.7" stroke="#000" stroke-width="1.4" fill="none"/>
<path d="M260.7,525.7 L263.8,531.1 L257.59999999999997,531.1 Z" fill="#000"/>
<path d="M287.7,537.2 V528.7" stroke="#000" stroke-width="1.4" fill="none"/>
<path d="M287.7,525.7 L290.8,531.1 L284.59999999999997,531.1 Z" fill="#000"/>
<text x="260.3" y="545.0" font-size="5.8" text-anchor="middle" font-weight="bold" textLength="10.6" lengthAdjust="spacingAndGlyphs" stroke="#000" stroke-width="0.25">HbF</text>
<text x="287.9" y="545.0" font-size="5.8" text-anchor="middle" font-weight="bold" textLength="11.6" lengthAdjust="spacingAndGlyphs" stroke="#000" stroke-width="0.25">HbA</text>
<path d="M327.4,536.8 V528.3" stroke="#000" stroke-width="1.4" fill="none"/>
<path d="M327.4,525.3 L330.5,530.6999999999999 L324.29999999999995,530.6999999999999 Z" fill="#000"/>
<path d="M355.3,536.8 V528.3" stroke="#000" stroke-width="1.4" fill="none"/>
<path d="M355.3,525.3 L358.40000000000003,530.6999999999999 L352.2,530.6999999999999 Z" fill="#000"/>
<text x="327.0" y="544.7" font-size="5.8" text-anchor="middle" font-weight="bold" textLength="10.6" lengthAdjust="spacingAndGlyphs" stroke="#000" stroke-width="0.25">HbF</text>
<text x="355.5" y="544.7" font-size="5.8" text-anchor="middle" font-weight="bold" textLength="11.6" lengthAdjust="spacingAndGlyphs" stroke="#000" stroke-width="0.25">HbA</text>
<path d="M397.6,536.8 V528.3" stroke="#000" stroke-width="1.4" fill="none"/>
<path d="M397.6,525.3 L400.70000000000005,530.6999999999999 L394.5,530.6999999999999 Z" fill="#000"/>
<path d="M425.8,536.8 V528.3" stroke="#000" stroke-width="1.4" fill="none"/>
<path d="M425.8,525.3 L428.90000000000003,530.6999999999999 L422.7,530.6999999999999 Z" fill="#000"/>
<text x="397.20000000000005" y="544.7" font-size="5.8" text-anchor="middle" font-weight="bold" textLength="10.6" lengthAdjust="spacingAndGlyphs" stroke="#000" stroke-width="0.25">HbF</text>
<text x="426.0" y="544.7" font-size="5.8" text-anchor="middle" font-weight="bold" textLength="11.6" lengthAdjust="spacingAndGlyphs" stroke="#000" stroke-width="0.25">HbA</text>
<path d="M464.1,536.7 V528.2" stroke="#000" stroke-width="1.4" fill="none"/>
<path d="M464.1,525.2 L467.20000000000005,530.6 L461.0,530.6 Z" fill="#000"/>
<path d="M492.4,536.7 V528.2" stroke="#000" stroke-width="1.4" fill="none"/>
<path d="M492.4,525.2 L495.5,530.6 L489.29999999999995,530.6 Z" fill="#000"/>
<text x="463.70000000000005" y="544.5" font-size="5.8" text-anchor="middle" font-weight="bold" textLength="10.6" lengthAdjust="spacingAndGlyphs" stroke="#000" stroke-width="0.25">HbF</text>
<text x="492.59999999999997" y="544.5" font-size="5.8" text-anchor="middle" font-weight="bold" textLength="11.6" lengthAdjust="spacingAndGlyphs" stroke="#000" stroke-width="0.25">HbA</text>
<text x="264" y="564.5" font-size="9.6" text-anchor="start" font-weight="normal" textLength="19.8" lengthAdjust="spacingAndGlyphs" stroke="#000" stroke-width="0.55">Untx</text>
<text x="315.1" y="564.8" font-size="9.6" text-anchor="start" font-weight="normal" textLength="53.9" lengthAdjust="spacingAndGlyphs" stroke="#000" stroke-width="0.55">AZA 200 nM</text>
<text x="392.5" y="564.9" font-size="9.6" text-anchor="start" font-weight="normal" textLength="38.8" lengthAdjust="spacingAndGlyphs" stroke="#000" stroke-width="0.55">Sal 6 µM</text>
<text x="452.9" y="564.5" font-size="9.6" text-anchor="start" font-weight="normal" textLength="53.4" lengthAdjust="spacingAndGlyphs" stroke="#000" stroke-width="0.55">AZA 200 nM</text>
<text x="452.9" y="576.4" font-size="9.6" text-anchor="start" font-weight="normal" textLength="46.9" lengthAdjust="spacingAndGlyphs" stroke="#000" stroke-width="0.55">+ Sal 6 µM</text>
</svg>
</body></html>
